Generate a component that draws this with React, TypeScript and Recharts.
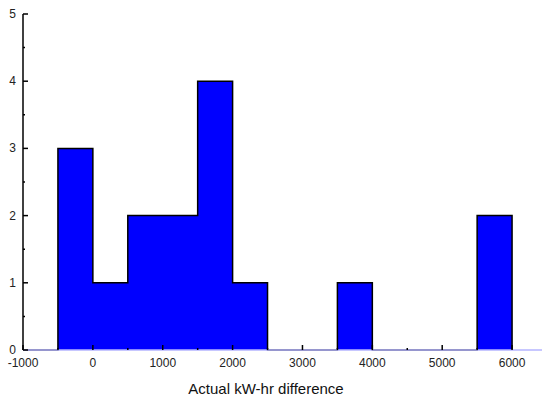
import { Area, ComposedChart, XAxis, YAxis } from "recharts";

const binStarts = [-500, 0, 500, 1000, 1500, 2000, 2500, 3000, 3500, 4000, 4500, 5000, 5500];
const binWidth = 500;
const counts = [3, 1, 2, 2, 4, 1, 0, 0, 1, 0, 0, 0, 2];
const xTicks = [-1000, -500, 0, 500, 1000, 1500, 2000, 2500, 3000, 3500, 4000, 4500, 5000, 5500, 6000];
const yTicks = [0, 0.5, 1, 1.5, 2, 2.5, 3, 3.5, 4, 4.5, 5];

// stair outline of the histogram (stepAfter), closed down to the baseline at both ends
const lastEnd = binStarts[binStarts.length - 1] + binWidth;
const outline = [
  { x: xTicks[0], y: 0 },
  { x: binStarts[0], y: 0 },
  ...binStarts.map((s, i) => ({ x: s, y: counts[i] })),
  { x: lastEnd, y: counts[counts.length - 1] },
  { x: lastEnd, y: 0 },
];

const font = "Arial, 'Liberation Sans', sans-serif";

function XTick(props: any) {
  const { x, y, payload } = props;
  const major = payload.value % 1000 === 0;
  return (
    <g>
      <line x1={x} x2={x} y1={y} y2={y - (major ? 5 : 2)} stroke="#000" strokeWidth={1.5} />
      {major && (
        <text x={x} y={y + 17} textAnchor="middle" fontSize={12} fontFamily={font} fill="#222">
          {payload.value}
        </text>
      )}
    </g>
  );
}

function YTick(props: any) {
  const { x, y, payload } = props;
  const major = payload.value % 1 === 0;
  return (
    <g>
      <line x1={x} x2={x + (major ? 5 : 2)} y1={y} y2={y} stroke="#000" strokeWidth={1.5} />
      {major && (
        <text x={x - 7} y={y + 4} textAnchor="end" fontSize={12} fontFamily={font} fill="#222">
          {payload.value}
        </text>
      )}
    </g>
  );
}

export default function App() {
  return (
    <div style={{ position: "absolute", left: 0, top: 0, width: 542, height: 396, overflow: "hidden", background: "#fff" }}>
      <ComposedChart width={547} height={396} data={outline} margin={{ top: 14, right: 0, bottom: 0, left: 0 }}>
        <XAxis
          dataKey="x"
          type="number"
          domain={[-1000, 6500]}
          ticks={xTicks}
          interval={0}
          tickSize={0}
          tickMargin={0}
          tickLine={false}
          tick={XTick}
          height={46}
          axisLine={{ stroke: "#b4b4ff", strokeWidth: 1.5 }}
          allowDuplicatedCategory
          label={{
            value: "Actual kW-hr difference",
            position: "insideBottom",
            offset: 2,
            dx: -19,
            fontSize: 15,
            fontFamily: font,
            fill: "#111",
          }}
        />
        <YAxis
          type="number"
          domain={[0, 5]}
          ticks={yTicks}
          interval={0}
          tickSize={0}
          tickMargin={0}
          tickLine={false}
          tick={YTick}
          width={23}
          axisLine={{ stroke: "#000", strokeWidth: 1.5 }}
        />
        <Area
          dataKey="y"
          type="stepAfter"
          fill="#0000ff"
          fillOpacity={1}
          stroke="#000"
          strokeWidth={1.5}
          dot={false}
          activeDot={false}
          isAnimationActive={false}
        />
      </ComposedChart>
    </div>
  );
}
